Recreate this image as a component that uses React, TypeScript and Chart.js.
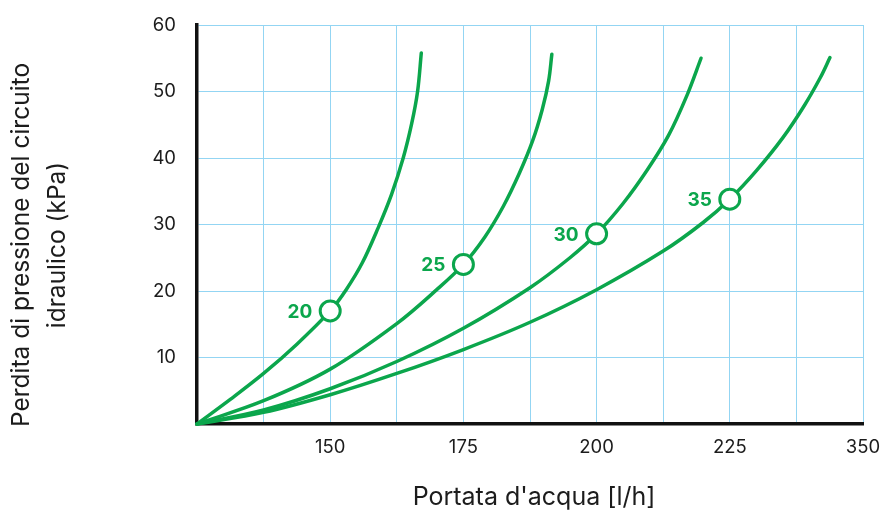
import React, { useEffect, useRef } from 'react';
import { Chart, registerables } from 'chart.js';

Chart.register(...registerables);

const xTickValues = [150, 175, 200, 225, 250];
const xTickLabels = ['150', '175', '200', '225', '350'];
const yTickValues = [10, 20, 30, 40, 50, 60];

const curve20X = [125, 131.25, 137.5, 143.75, 150, 153, 156, 159, 161.5, 163.7, 165.3, 166.4, 167.1];
const curve20Y = [0, 3.7, 7.6, 12.0, 17.0, 20.2, 24.2, 29.5, 34.5, 40.0, 45.2, 50.0, 55.8];

const curve25X = [125, 137.5, 150, 162.5, 170, 175, 179, 182.5, 185.5, 188, 189.8, 191, 191.6];
const curve25Y = [0, 3.5, 8.25, 15.1, 20.2, 24.0, 28.1, 32.75, 37.7, 42.6, 47.3, 51.6, 55.6];

const curve30X = [125, 137.5, 150, 162.5, 175, 187.5, 195, 200, 205, 209.5, 213.5, 217, 219.6];
const curve30Y = [0, 2.1, 5.3, 9.4, 14.4, 20.5, 25.0, 28.6, 33.2, 38.2, 43.4, 49.5, 55.0];

const curve35X = [125, 137.5, 150, 162.5, 175, 187.5, 200, 212.5, 220, 225, 230, 235, 239, 242, 243.8];
const curve35Y = [0, 1.75, 4.4, 7.6, 11.2, 15.3, 20.2, 26.0, 30.3, 33.8, 38.1, 43.1, 47.9, 52.1, 55.1];

const markerX = [150, 175, 200, 225];
const markerY = [17.0, 24.0, 28.6, 33.8];
const markerLabels = ['20', '25', '30', '35'];

const xTitle = "Portata d'acqua [l/h]";
const yTitle = ['Perdita di pressione del circuito', 'idraulico (kPa)'];

const GREEN = '#0ba64c';
const GRID = '#93d5f3';
const TEXT = '#1c1c1c';
const FONT = 'Inter, "Noto Sans", sans-serif';

const toPoints = (xs: number[], ys: number[]) => xs.map((x, i) => ({ x, y: ys[i] }));

const curveDataset = (xs: number[], ys: number[]) => ({
  type: 'line' as const,
  data: toPoints(xs, ys),
  borderColor: GREEN,
  borderWidth: 3.5,
  pointRadius: 0,
  fill: false,
  tension: 0.35,
  borderCapStyle: 'round' as const,
  clip: false as any,
});

const annotationsPlugin = {
  id: 'customText',
  afterDatasetsDraw(chart: any) {
    const { ctx, scales } = chart;
    const xs = scales.x;
    const ys = scales.y;
    ctx.save();
    ctx.fillStyle = GREEN;
    ctx.font = `bold 19px ${FONT}`;
    ctx.textAlign = 'right';
    ctx.textBaseline = 'middle';
    markerX.forEach((mx, i) => {
      const px = xs.getPixelForValue(mx);
      const py = ys.getPixelForValue(markerY[i]);
      ctx.fillText(markerLabels[i], px - 18, py + 1);
    });
    ctx.restore();
  },
  afterDraw(chart: any) {
    const { ctx } = chart;
    ctx.save();
    ctx.fillStyle = TEXT;
    ctx.textAlign = 'center';
    ctx.textBaseline = 'middle';
    ctx.font = `25px ${FONT}`;
    ctx.fillText(xTitle, 534, 497);
    ctx.font = `24.5px ${FONT}`;
    ctx.translate(0, 245);
    ctx.rotate(-Math.PI / 2);
    yTitle.forEach((line, i) => {
      ctx.fillText(line, 0, 22 + i * 36);
    });
    ctx.restore();
  },
};

export default function App() {
  const canvasRef = useRef<HTMLCanvasElement | null>(null);

  useEffect(() => {
    if (!canvasRef.current) return;
    const chart = new Chart(canvasRef.current, {
      type: 'line',
      data: {
        datasets: [
          {
            type: 'scatter' as const,
            data: toPoints(markerX, markerY),
            pointRadius: 10,
            pointHoverRadius: 10,
            pointBackgroundColor: '#ffffff',
            pointBorderColor: GREEN,
            pointBorderWidth: 3,
            showLine: false,
          } as any,
          curveDataset(curve20X, curve20Y),
          curveDataset(curve25X, curve25Y),
          curveDataset(curve30X, curve30Y),
          curveDataset(curve35X, curve35Y),
        ],
      },
      options: {
        animation: false,
        responsive: false,
        devicePixelRatio: 1,
        layout: { padding: { top: 25, right: 20, left: 0, bottom: 0 } },
        plugins: {
          legend: { display: false },
          tooltip: { enabled: false },
        },
        scales: {
          x: {
            type: 'linear',
            min: 125,
            max: 250,
            afterFit: (scale: any) => {
              scale.height = 90;
              scale.paddingLeft = 0;
              scale.paddingRight = 0;
            },
            afterBuildTicks: (scale: any) => {
              const t = [] as { value: number }[];
              for (let v = 125; v <= 250; v += 12.5) t.push({ value: v });
              scale.ticks = t;
            },
            ticks: {
              autoSkip: false,
              maxRotation: 0,
              padding: 12,
              color: TEXT,
              font: { family: FONT, size: 18.5 },
              callback: (value: any) => {
                const idx = xTickValues.indexOf(Number(value));
                return idx >= 0 ? xTickLabels[idx] : '';
              },
            },
            grid: { color: GRID, lineWidth: 1, drawTicks: false },
            border: { color: '#111111', width: 3.5 },
          },
          y: {
            type: 'linear',
            min: 0,
            max: 60,
            afterFit: (scale: any) => {
              scale.width = 197;
              scale.paddingTop = 0;
              scale.paddingBottom = 0;
            },
            ticks: {
              stepSize: 10,
              padding: 21,
              color: TEXT,
              font: { family: FONT, size: 18.5 },
              callback: (value: any) =>
                yTickValues.indexOf(Number(value)) >= 0 ? String(value) : '',
            },
            grid: { color: GRID, lineWidth: 1, drawTicks: false },
            border: { color: '#111111', width: 3.5 },
          },
        },
      },
      plugins: [annotationsPlugin],
    });
    return () => chart.destroy();
  }, []);

  return (
    <div style={{ position: 'fixed', left: 0, top: 0, width: 883, height: 514, background: '#ffffff' }}>
      <canvas ref={canvasRef} width={883} height={514} />
    </div>
  );
}
